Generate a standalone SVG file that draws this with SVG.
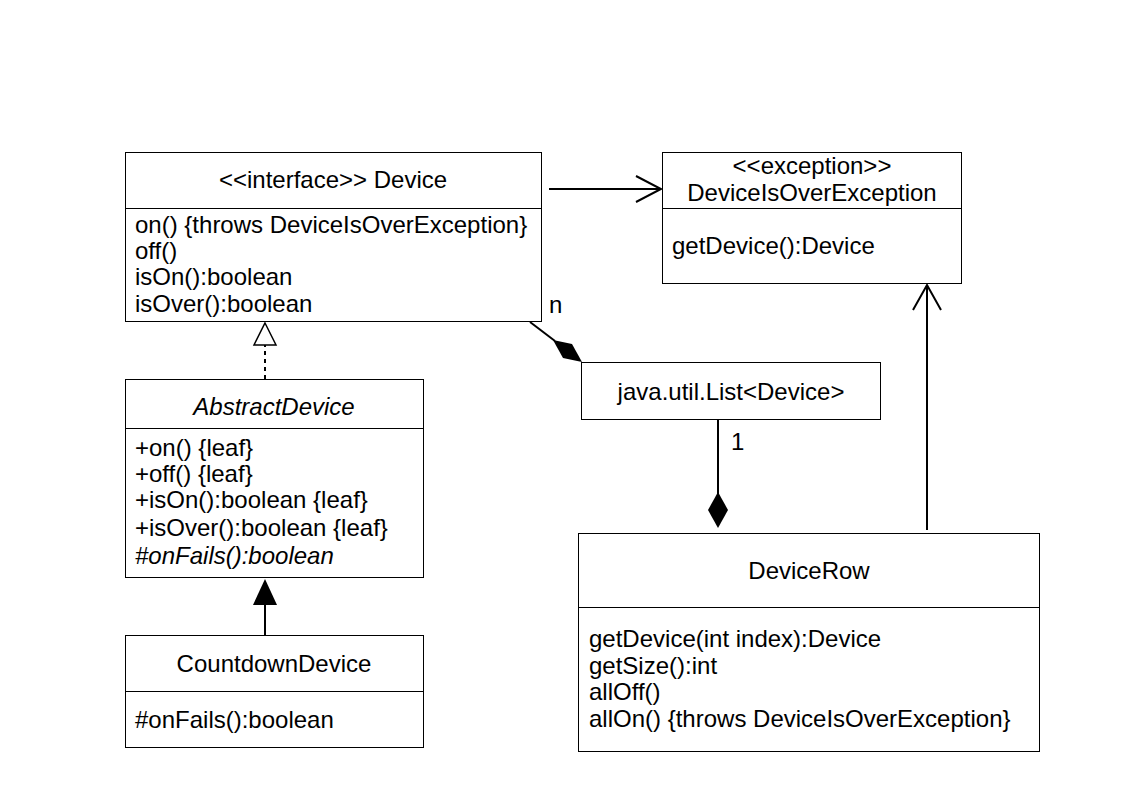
<svg xmlns="http://www.w3.org/2000/svg" width="1123" height="794" viewBox="0 0 1123 794">
<style>
.box{fill:#fff;stroke:#000;stroke-width:1}
.div{stroke:#000;stroke-width:1}
text{font-family:"Liberation Sans",Arial,sans-serif;font-size:24px;fill:#000}
.c{text-anchor:middle}
.i{font-style:italic}
.ln{stroke:#000;stroke-width:2;fill:none}
</style>
<rect width="1123" height="794" fill="#fff"/>
<g id="connectors">
<line class="ln" x1="549" y1="189" x2="660" y2="189"/>
<polyline class="ln" points="636,176 661,189 636,202"/>
<line class="ln" x1="530" y1="322" x2="555" y2="341"/>
<polygon points="553,340 572,344 582,362 563,358" fill="#000"/>
<text x="549" y="313">n</text>
<line class="ln" x1="718" y1="419" x2="718" y2="494"/>
<polygon points="718,492 728,510 718,528 708,510" fill="#000"/>
<text x="731" y="450">1</text>
<line class="ln" x1="927" y1="530" x2="927" y2="286"/>
<polyline class="ln" points="913,310 927,285 941,310"/>
<line x1="265" y1="379" x2="265" y2="345" stroke="#000" stroke-width="2" stroke-dasharray="4,4"/>
<polygon points="265,323 276,345 254,345" fill="#fff" stroke="#000" stroke-width="1.5"/>
<line class="ln" x1="265" y1="635" x2="265" y2="604"/>
<polygon points="265,579 277,605 253,605" fill="#000"/>
</g>
<g id="Device">
<rect class="box" x="125.5" y="152.5" width="416" height="169"/>
<line class="div" x1="125.5" y1="208.5" x2="541.5" y2="208.5"/>
<text class="c" x="333" y="188">&lt;&lt;interface&gt;&gt; Device</text>
<text x="135" y="233">on() {throws DeviceIsOverException}</text>
<text x="135" y="259">off()</text>
<text x="135" y="285">isOn():boolean</text>
<text x="135" y="312">isOver():boolean</text>
</g>
<g id="DeviceIsOverException">
<rect class="box" x="662.5" y="152.5" width="299" height="131"/>
<line class="div" x1="662.5" y1="208.5" x2="961.5" y2="208.5"/>
<text class="c" x="812" y="174">&lt;&lt;exception&gt;&gt;</text>
<text class="c" x="812" y="201">DeviceIsOverException</text>
<text x="672" y="254">getDevice():Device</text>
</g>
<g id="List">
<rect class="box" x="581.5" y="362.5" width="299" height="57"/>
<text class="c" x="731" y="400">java.util.List&lt;Device&gt;</text>
</g>
<g id="DeviceRow">
<rect class="box" x="578.5" y="533.5" width="461" height="218"/>
<line class="div" x1="578.5" y1="607.5" x2="1039.5" y2="607.5"/>
<text class="c" x="809" y="579">DeviceRow</text>
<text x="589" y="647">getDevice(int index):Device</text>
<text x="589" y="674">getSize():int</text>
<text x="589" y="700">allOff()</text>
<text x="589" y="727">allOn() {throws DeviceIsOverException}</text>
</g>
<g id="AbstractDevice">
<rect class="box" x="125.5" y="379.5" width="298" height="198"/>
<line class="div" x1="125.5" y1="428.5" x2="423.5" y2="428.5"/>
<text class="c i" x="274" y="415">AbstractDevice</text>
<text x="135" y="456">+on() {leaf}</text>
<text x="135" y="482">+off() {leaf}</text>
<text x="135" y="508">+isOn():boolean {leaf}</text>
<text x="135" y="536">+isOver():boolean {leaf}</text>
<text class="i" x="135" y="564">#onFails():boolean</text>
</g>
<g id="CountdownDevice">
<rect class="box" x="125.5" y="635.5" width="298" height="112"/>
<line class="div" x1="125.5" y1="691.5" x2="423.5" y2="691.5"/>
<text class="c" x="274" y="672">CountdownDevice</text>
<text x="135" y="728">#onFails():boolean</text>
</g>
</svg>
